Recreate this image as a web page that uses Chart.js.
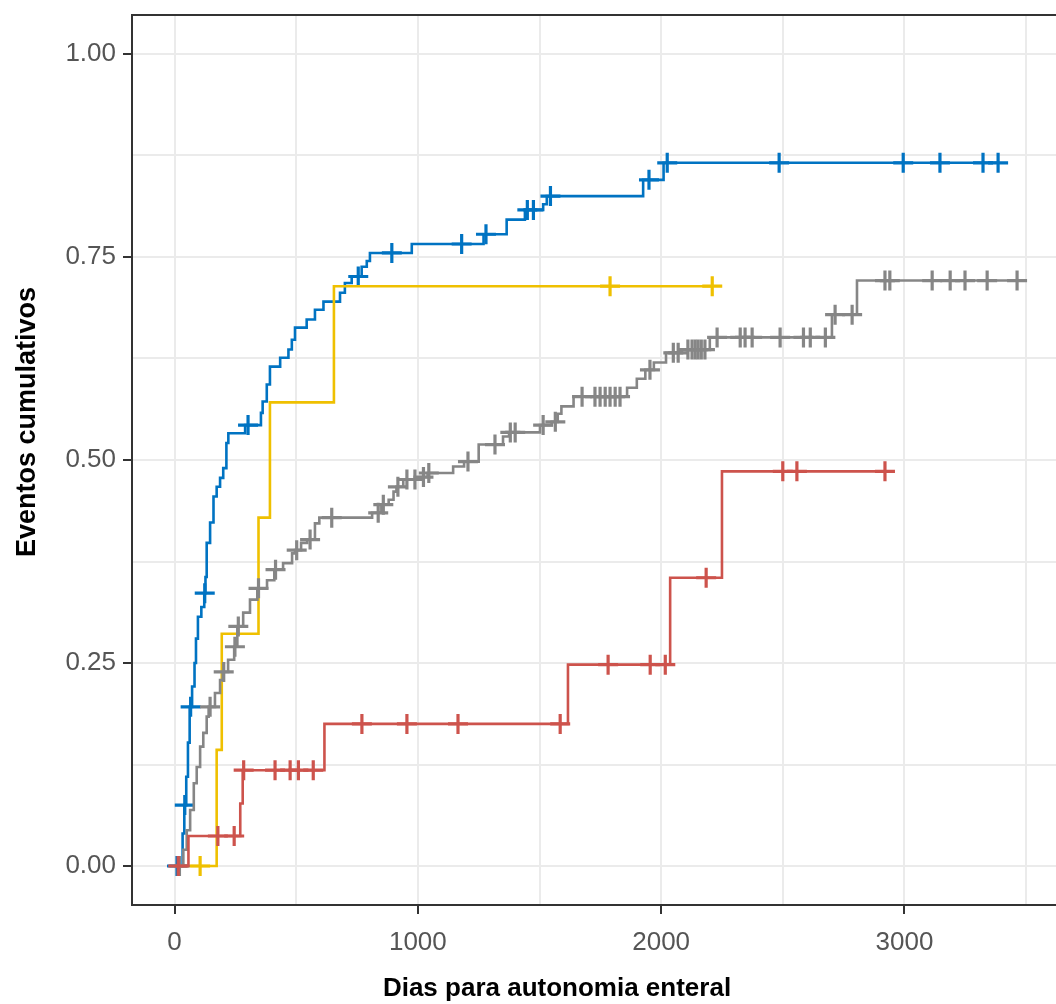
<!DOCTYPE html>
<html>
<head>
<meta charset="utf-8">
<script src="https://cdn.jsdelivr.net/npm/chart.js@4.4.1/dist/chart.umd.min.js"></script>
<style>
    html, body { margin: 0; padding: 0; background: #fff; overflow: hidden; }
    #wrap { width: 1056px; height: 1004px; position: relative; }
</style>
</head>
<body>
<div id="wrap"><canvas id="kmChart"></canvas></div>
<script>
// cumulative events per group: event times, cumulative value after the event, censored times
const blueTimes = [0, 33, 40, 48, 55, 62, 72, 82, 88, 96, 110, 122, 127, 132, 146, 160, 173, 187, 200, 213,
    221, 290, 355, 362, 379, 392, 434, 468, 482, 495, 543, 577, 612, 680, 700, 728, 769, 790, 803, 975,
    1270, 1365, 1440, 1515, 1530, 1926, 2010];
const blueCum = [0, 0.04, 0.075, 0.11, 0.152, 0.196, 0.221, 0.25, 0.28, 0.307, 0.319, 0.336, 0.356, 0.398, 0.423, 0.455, 0.467, 0.478, 0.49, 0.521,
    0.533, 0.543, 0.558, 0.572, 0.593, 0.615, 0.626, 0.636, 0.648, 0.663, 0.673, 0.685, 0.695, 0.706, 0.718, 0.726, 0.738, 0.745, 0.755, 0.766,
    0.778, 0.796, 0.808, 0.815, 0.825, 0.845, 0.866];
const blueCensor = [10, 42, 66, 124, 302, 755, 893, 1180, 1280, 1450, 1475, 1545, 1950, 2025, 2485, 2995, 3146, 3323, 3385];

const yellowTimes = [0, 173, 194, 345, 392, 655];
const yellowCum = [0, 0.143, 0.286, 0.429, 0.571, 0.714];
const yellowCensor = [105, 1790, 2210];

const grayTimes = [0, 36, 50, 64, 79, 91, 105, 118, 132, 140, 166, 187, 198, 220, 245, 258, 282, 310, 340, 380,
    410, 446, 483, 495, 520, 545, 577, 595, 812, 850, 880, 900, 912, 940, 1010, 1040, 1145, 1190, 1250, 1350,
    1375, 1502, 1550, 1575, 1590, 1640, 1860, 1900, 1935, 1970, 2020, 2085, 2200, 2702, 2805];
const grayCum = [0, 0.02, 0.044, 0.069, 0.102, 0.122, 0.147, 0.164, 0.184, 0.196, 0.213, 0.229, 0.239, 0.254, 0.27, 0.295, 0.312, 0.328, 0.342, 0.352,
    0.365, 0.373, 0.385, 0.389, 0.398, 0.402, 0.422, 0.429, 0.435, 0.445, 0.451, 0.461, 0.467, 0.476, 0.479, 0.484, 0.492, 0.498, 0.519, 0.529,
    0.534, 0.543, 0.547, 0.557, 0.566, 0.578, 0.589, 0.6, 0.611, 0.62, 0.632, 0.636, 0.651, 0.679, 0.721];
const grayCensor = [20, 146, 202, 248, 262, 345, 415, 502, 557, 646, 837, 858, 918, 955, 988, 1023, 1045, 1206, 1317, 1380,
    1400, 1515, 1565, 1675, 1728, 1749, 1770, 1790, 1811, 1831, 1954, 2050, 2070, 2110, 2127, 2140, 2152, 2165, 2180, 2230,
    2325, 2345, 2374, 2489, 2585, 2613, 2675, 2715, 2785, 2920, 2940, 3114, 3188, 3249, 3340, 3463];

const redTimes = [0, 57, 270, 280, 616, 1617, 2037, 2250];
const redCum = [0, 0.037, 0.077, 0.118, 0.175, 0.248, 0.355, 0.486];
const redCensor = [15, 178, 245, 284, 413, 475, 509, 570, 770, 955, 1165, 1585, 1782, 1955, 2017, 2185, 2500, 2558, 2920];

// axes
const xMajorTicks = [0, 1000, 2000, 3000];
const xMinorTicks = [500, 1500, 2500, 3500];
const yMajorTicks = [0, 0.25, 0.5, 0.75, 1];
const yMinorTicks = [0.125, 0.375, 0.625, 0.875];
const yTickLabels = ['0.00', '0.25', '0.50', '0.75', '1.00'];
const xTitle = 'Dias para autonomia enteral';
const yTitle = 'Eventos cumulativos';

const FONT = '"Liberation Sans", Arial, sans-serif';

function valueAt(times, cum, t) {
    let v = 0;
    for (let i = 0; i < times.length; i++) {
        if (times[i] <= t) v = cum[i];
    }
    return v;
}

function curvePoints(times, cum, censor) {
    const pts = times.map((t, i) => ({ x: t, y: cum[i] }));
    const last = Math.max(...censor);
    if (last > times[times.length - 1]) {
        pts.push({ x: last, y: cum[cum.length - 1] });
    }
    return pts;
}

function censorPoints(times, cum, censor) {
    return censor.map(t => ({ x: t, y: valueAt(times, cum, t) }));
}

function groupDatasets(times, cum, censor, color) {
    return [
        {
            type: 'line',
            data: curvePoints(times, cum, censor),
            borderColor: color,
            borderWidth: 2.6,
            stepped: 'before',
            pointRadius: 0,
            fill: false
        },
        {
            type: 'scatter',
            data: censorPoints(times, cum, censor),
            borderColor: color,
            backgroundColor: color,
            pointStyle: 'cross',
            pointRadius: 10,
            borderWidth: 3.2,
            showLine: false
        }
    ];
}

function noPadding(scale) {
    scale.paddingLeft = 0;
    scale.paddingRight = 0;
    scale.paddingTop = 0;
    scale.paddingBottom = 0;
}

const panelFrame = {
    id: 'panelFrame',
    afterDraw(chart) {
        const { ctx, chartArea: a } = chart;
        ctx.save();
        ctx.strokeStyle = '#333333';
        ctx.lineWidth = 2;
        ctx.beginPath();
        ctx.moveTo(a.right + 5, a.top);
        ctx.lineTo(a.left, a.top);
        ctx.lineTo(a.left, a.bottom);
        ctx.lineTo(a.right + 5, a.bottom);
        ctx.stroke();

        ctx.fillStyle = '#000';
        ctx.textAlign = 'center';
        ctx.textBaseline = 'middle';
        ctx.font = 'bold 26px ' + FONT;
        ctx.fillText(xTitle, 557, 989);
        ctx.translate(28, 422);
        ctx.rotate(-Math.PI / 2);
        ctx.font = 'bold 27px ' + FONT;
        ctx.fillText(yTitle, 0, 0);
        ctx.restore();
    }
};

const ctx = document.getElementById('kmChart').getContext('2d');
new Chart(ctx, {
    data: {
        datasets: [
            ...groupDatasets(redTimes, redCum, redCensor, '#CD534C'),
            ...groupDatasets(grayTimes, grayCum, grayCensor, '#868686'),
            ...groupDatasets(yellowTimes, yellowCum, yellowCensor, '#EFC000'),
            ...groupDatasets(blueTimes, blueCum, blueCensor, '#0073C2')
        ]
    },
    options: {
        responsive: true,
        maintainAspectRatio: false,
        animation: false,
        events: [],
        layout: { autoPadding: false, padding: { top: 15, right: 0, left: 0, bottom: 0 } },
        scales: {
            x: {
                type: 'linear',
                min: -175,
                max: 3623,
                afterBuildTicks: scale => {
                    scale.ticks = [...xMajorTicks, ...xMinorTicks].sort((a, b) => a - b).map(v => ({ value: v }));
                },
                afterFit: scale => { scale.height = 99; noPadding(scale); },
                ticks: {
                    autoSkip: false,
                    maxRotation: 0,
                    padding: 13,
                    color: '#555555',
                    font: { family: FONT, size: 26 },
                    callback: value => xMajorTicks.includes(value) ? String(value) : ''
                },
                grid: {
                    color: '#ebebeb',
                    lineWidth: 2,
                    tickLength: 9,
                    tickWidth: 2,
                    tickColor: c => (c.tick && xMajorTicks.includes(c.tick.value)) ? '#333333' : 'rgba(0,0,0,0)'
                },
                border: { display: false }
            },
            y: {
                type: 'linear',
                min: -0.048,
                max: 1.048,
                afterBuildTicks: scale => {
                    scale.ticks = [...yMajorTicks, ...yMinorTicks].sort((a, b) => a - b).map(v => ({ value: v }));
                },
                afterFit: scale => { scale.width = 132; noPadding(scale); },
                ticks: {
                    autoSkip: false,
                    padding: 7,
                    color: '#555555',
                    font: { family: FONT, size: 26 },
                    callback: value => {
                        const i = yMajorTicks.indexOf(value);
                        return i >= 0 ? yTickLabels[i] : '';
                    }
                },
                grid: {
                    color: '#ebebeb',
                    lineWidth: 2,
                    tickLength: 9,
                    tickWidth: 2,
                    tickColor: c => (c.tick && yMajorTicks.includes(c.tick.value)) ? '#333333' : 'rgba(0,0,0,0)'
                },
                border: { display: false }
            }
        },
        plugins: {
            legend: { display: false },
            tooltip: { enabled: false },
            title: { display: false }
        }
    },
    plugins: [panelFrame]
});
</script>
</body>
</html>
